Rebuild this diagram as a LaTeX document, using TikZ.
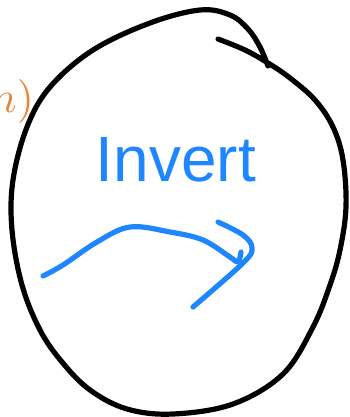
\documentclass[tikz,border=0pt]{standalone}
\usepackage{fontspec}
\setmainfont{Liberation Sans}
\definecolor{inkblue}{HTML}{1E86FF}
\definecolor{inkorange}{HTML}{E8843A}
\begin{document}
\begin{tikzpicture}[x=1pt,y=-1pt,
  ink/.style={line width=5.2pt,line cap=round,line join=round},
  lbl/.style={inner sep=0pt,outer sep=0pt}]
\useasboundingbox (0,0) rectangle (349,417);
\clip (0,0) rectangle (349,417);
% hand-drawn loop
\draw[ink,black] plot[smooth,tension=0.6] coordinates {(218,39) (245,50) (268,63) (290,78) (315,100) (333,127) (343,160) (346,207) (340,250) (330,285) (313,327) (283,374) (233,404) (173,414) (127,409) (90,390) (62,362) (40,330) (22,285) (12,230) (13,180) (27,127) (50,87) (93,50) (150,23) (200,10) (230,15) (248,29) (260,47) (268,66)};
% label text
\node[lbl,anchor=base,text=inkblue] (inv) at (176,181) {\fontsize{64}{64}\selectfont Invert};
% partial orange label on the left
\node[lbl,anchor=base east,text=inkorange] (fn) at (34,113) {\scalebox{4.4}{$n)$}};
% blue arrow
\coordinate (a0) at (43,276);
\coordinate (a1) at (238,262);
\coordinate (h0) at (218,222);
\coordinate (h1) at (193,307);
\draw[ink,inkblue] plot[smooth,tension=0.6] coordinates {(a0) (63,265) (97,242) (130,227) (170,232) (203,240) (230,257) (a1) (241,252)};
\draw[ink,inkblue] plot[smooth,tension=0.6] coordinates {(h0) (243,235) (252,248) (243,263) (h1)};
\end{tikzpicture}
\end{document}
